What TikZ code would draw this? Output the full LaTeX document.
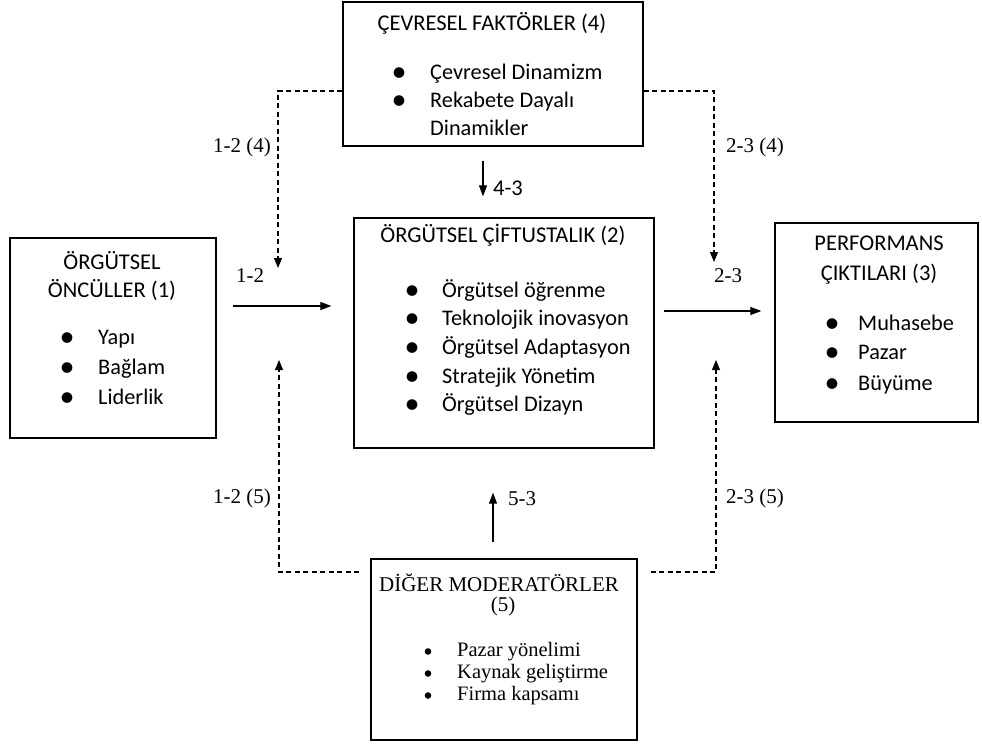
\documentclass[tikz,border=0pt]{standalone}
\usepackage{fontspec}
\setmainfont{Carlito}
\newfontfamily\serif{Liberation Serif}
\usetikzlibrary{arrows.meta}

% a slightly enlarged bullet, kept on the text's axis
\newcommand\bigdot{\makebox[0pt]{\raisebox{-0.09em}{\scalebox{1.35}{\textbullet}}}}
% one bulleted line: bullet centred on x, text #4 further right
\newcommand\bulletline[5]{\node[itemline] (#1) at (#2,#3) {\bigdot\hspace{#4}#5};}

\tikzset{
  frame/.style={draw, line width=1.3pt, inner sep=0pt},
  heading/.style={anchor=base, inner sep=0pt, align=center, font=\fontsize{22.5}{28}\selectfont},
  itemline/.style={anchor=base west, inner sep=0pt, font=\fontsize{22.3}{28}\selectfont},
  seriftitle/.style={anchor=base, inner sep=0pt, font=\serif\fontsize{21}{24}\selectfont},
  serifline/.style={anchor=base west, inner sep=0pt, font=\serif\fontsize{20.5}{22}\selectfont},
  dot/.style={fill=black},
  label/.style={anchor=base, inner sep=0pt, font=\serif\fontsize{21}{24}\selectfont},
  link/.style={line width=1.1pt, -{Triangle[length=11pt,width=8pt]}},
  modlink/.style={line width=1.1pt, dash pattern=on 5pt off 3.5pt, -{Triangle[length=10pt,width=8pt]}},
}

\begin{document}
\begin{tikzpicture}[x=1pt, y=-1pt]
\useasboundingbox (0,0) rectangle (982,744);

% ---- boxes ----
\node[frame, minimum width=300pt, minimum height=144pt] (env) at (493,74) {};
\node[frame, minimum width=206pt, minimum height=200pt] (ant) at (113,338) {};
\node[frame, minimum width=300pt, minimum height=230pt] (ctr) at (504,333) {};
\node[frame, minimum width=203pt, minimum height=199pt] (out) at (876.5,322.5) {};
\node[frame, minimum width=266pt, minimum height=181pt] (mod) at (504,649.5) {};

% ---- environmental factors ----
\node[heading] (envT) at (492,30) {ÇEVRESEL FAKTÖRLER (4)};
\bulletline{envA}{399}{79}{31pt}{Çevresel Dinamizm}
\bulletline{envB}{399}{107}{31pt}{Rekabete Dayalı}
\node[itemline] (envC) at (430,135) {Dinamikler};

% ---- antecedents ----
\node[heading] (antT1) at (112,269) {ÖRGÜTSEL};
\node[heading] (antT2) at (112,297) {ÖNCÜLLER (1)};
\bulletline{antA}{67}{344}{31pt}{Yapı}
\bulletline{antB}{67}{374}{31pt}{Bağlam}
\bulletline{antC}{67}{404}{31pt}{Liderlik}

% ---- ambidexterity ----
\node[heading] (ctrT) at (503,242) {ÖRGÜTSEL ÇİFTUSTALIK (2)};
\bulletline{ctrA}{412}{297}{30pt}{Örgütsel öğrenme}
\bulletline{ctrB}{412}{325}{30pt}{Teknolojik inovasyon}
\bulletline{ctrC}{412}{354}{30pt}{Örgütsel Adaptasyon}
\bulletline{ctrD}{412}{383}{30pt}{Stratejik Yönetim}
\bulletline{ctrE}{412}{411}{30pt}{Örgütsel Dizayn}

% ---- outcomes ----
\node[heading] (outT1) at (879,250) {PERFORMANS};
\node[heading] (outT2) at (879,280) {ÇIKTILARI (3)};
\bulletline{outA}{832}{330}{26pt}{Muhasebe}
\bulletline{outB}{832}{359}{26pt}{Pazar}
\bulletline{outC}{832}{390}{26pt}{Büyüme}

% ---- other moderators ----
\node[seriftitle] (modT1) at (499,591) {DİĞER MODERATÖRLER};
\node[seriftitle] (modT2) at (503,611) {(5)};
\fill[dot] (428,651.5) circle (3.3pt);
\fill[dot] (428,673.5) circle (3.3pt);
\fill[dot] (428,695.5) circle (3.3pt);
\node[serifline] (modA) at (457,656) {Pazar yönelimi};
\node[serifline] (modB) at (457,678) {Kaynak geliştirme};
\node[serifline] (modC) at (457,700) {Firma kapsamı};

% ---- main path ----
\coordinate (row1) at (0,306);
\coordinate (row2) at (0,311);
\draw[link, shorten <=16pt, shorten >=22pt] (row1 -| ant.east) -- (row1 -| ctr.west);
\draw[link, shorten <=9pt, shorten >=13pt] (row2 -| ctr.east) -- (row2 -| out.west);
\coordinate (col4) at (483,0);
\coordinate (col5) at (493,0);
\draw[link, shorten <=14pt, shorten >=21pt] (col4 |- env.south) -- (col4 |- ctr.north);
\draw[link, shorten <=16pt, shorten >=44pt] (col5 |- mod.north) -- (col5 |- ctr.south);

% ---- moderating paths ----
\coordinate (envL) at (278,91);
\coordinate (envR) at (714,91);
\coordinate (tipL4) at (278,268);
\coordinate (tipR4) at (714,262);
\draw[modlink] (envL -| env.west) -- (envL) -- (tipL4);
\draw[modlink] (envR -| env.east) -- (envR) -- (tipR4);
\coordinate (modL) at (279,572);
\coordinate (modR) at (716,572);
\coordinate (tipL5) at (279,360);
\coordinate (tipR5) at (716,360);
\draw[modlink, shorten <=11pt] (modL -| mod.west) -- (modL) -- (tipL5);
\draw[modlink, shorten <=13pt] (modR -| mod.east) -- (modR) -- (tipR5);

% ---- path labels ----
\node[label] (l124) at (242,152) {1-2 (4)};
\node[label] (l234) at (755,152) {2-3 (4)};
\node[label] (l12) at (250,282) {1-2};
\node[label] (l23) at (728,282) {2-3};
\node[heading] (l43) at (508,195) {4-3};
\node[label] (l53) at (522,505) {5-3};
\node[label] (l125) at (242,503) {1-2 (5)};
\node[label] (l235) at (755,503) {2-3 (5)};
\end{tikzpicture}
\end{document}
